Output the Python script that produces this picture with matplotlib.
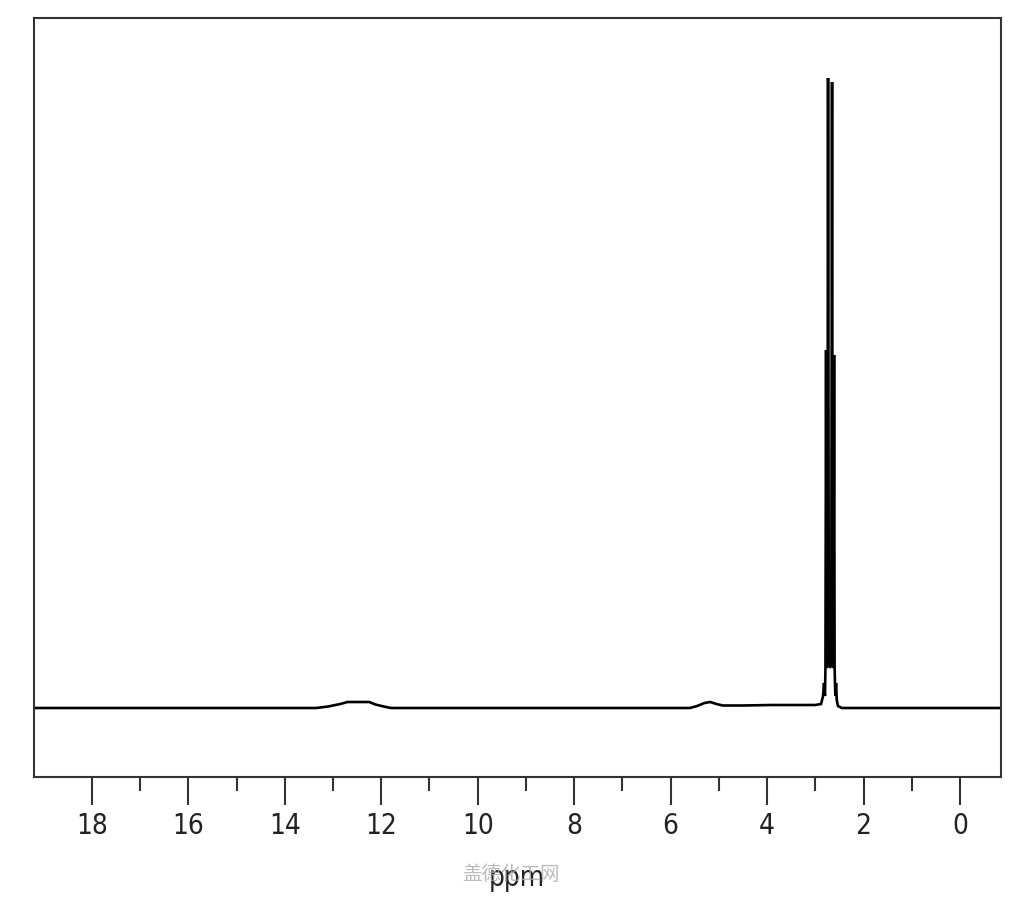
import matplotlib
matplotlib.use("Agg")
import matplotlib.pyplot as plt
from matplotlib import font_manager

# Spectrum trace (ppm, intensity in arbitrary units; baseline = 0)
ppm = [19.2, 13.35, 13.1, 12.85, 12.7, 12.25, 12.12, 11.95, 11.8,
       5.6, 5.45, 5.3, 5.18, 5.05, 4.92, 4.5, 3.9, 3.5, 3.0, 2.88,
       2.84, 2.82, 2.80, 2.79, 2.777, 2.765, 2.75, 2.736, 2.72, 2.695,
       2.67, 2.653, 2.64, 2.625, 2.611, 2.60, 2.585, 2.57, 2.555, 2.53,
       2.45, -0.85]
intensity = [0, 0, 1.5, 4, 6, 6, 3.5, 1.5, 0,
             0, 2, 5, 6, 4, 2.5, 2.5, 3, 3, 3, 4,
             12, 25, 12, 40, 358, 40, 45, 630, 45, 40,
             45, 626, 45, 40, 353, 40, 12, 25, 8, 2,
             0, 0]

major_ticks = [18, 16, 14, 12, 10, 8, 6, 4, 2, 0]
tick_labels = ["18", "16", "14", "12", "10", "8", "6", "4", "2", "0"]
minor_ticks = [17, 15, 13, 11, 9, 7, 5, 3, 1]

names = {f.name for f in font_manager.fontManager.ttflist}
if "Liberation Sans Narrow" in names:
    tick_font = ["Liberation Sans Narrow", "DejaVu Sans"]
    stretch = "normal"
else:
    tick_font = ["DejaVu Sans"]
    stretch = "condensed"

fig = plt.figure(figsize=(10.24, 9), dpi=100)
ax = fig.add_axes([34 / 1024, 1 - 777 / 900, (1001 - 34) / 1024, (777 - 18) / 900])

ax.plot(ppm, intensity, color="black", linewidth=1.9, solid_joinstyle="miter")

ax.set_xlim(19.2, -0.85)
ax.set_ylim(-69, 690)
ax.set_xticks(major_ticks)
ax.set_xticklabels(tick_labels, fontfamily=tick_font, fontstretch=stretch,
                   fontsize=20, color="#222222")
ax.set_xticks(minor_ticks, minor=True)
ax.tick_params(axis="x", which="major", direction="out", length=20, width=1.5,
               color="#333333", pad=5)
ax.tick_params(axis="x", which="minor", direction="out", length=10, width=1.5,
               color="#333333")
ax.set_yticks([])
for sp in ax.spines.values():
    sp.set_linewidth(1.5)
    sp.set_color("#333333")

fig.text(517 / 1024, 1 - 878 / 900, "ppm", ha="center", va="center",
         fontsize=20, family=tick_font, fontstretch=stretch, color="#222222")
fig.text(511 / 1024, 1 - 874 / 900, "盖德化工网", ha="center", va="center",
         fontsize=14, family=["Noto Sans CJK SC", "DejaVu Sans"], color="#aaaaaa",
         alpha=0.8)

fig.savefig("out.png", dpi=100)
